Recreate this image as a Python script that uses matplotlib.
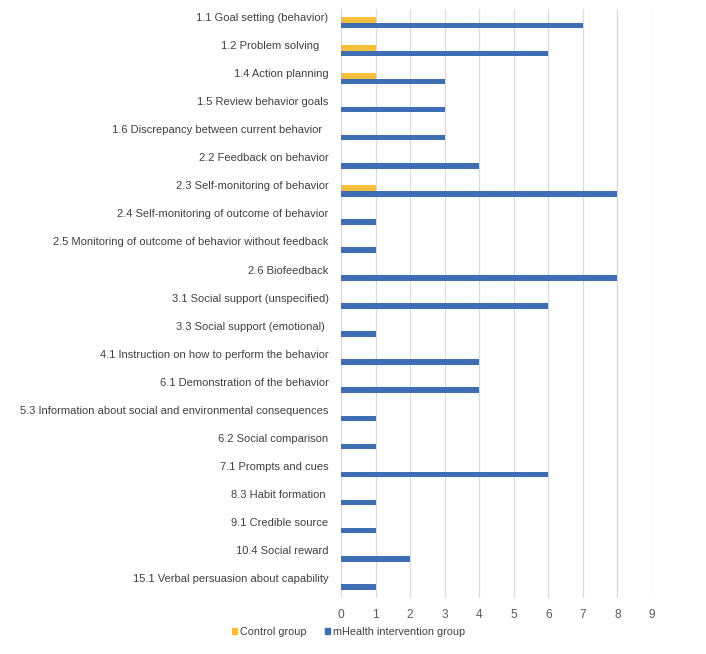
import matplotlib
matplotlib.use("Agg")
import matplotlib.pyplot as plt
import numpy as np
from matplotlib.patches import Patch

categories = [
    "1.1 Goal setting (behavior)",
    "1.2 Problem solving   ",
    "1.4 Action planning",
    "1.5 Review behavior goals",
    "1.6 Discrepancy between current behavior  ",
    "2.2 Feedback on behavior",
    "2.3 Self-monitoring of behavior",
    "2.4 Self-monitoring of outcome of behavior",
    "2.5 Monitoring of outcome of behavior without feedback",
    "2.6 Biofeedback",
    "3.1 Social support (unspecified)",
    "3.3 Social support (emotional) ",
    "4.1 Instruction on how to perform the behavior",
    "6.1 Demonstration of the behavior",
    "5.3 Information about social and environmental consequences",
    "6.2 Social comparison",
    "7.1 Prompts and cues",
    "8.3 Habit formation ",
    "9.1 Credible source",
    "10.4 Social reward",
    "15.1 Verbal persuasion about capability",
]
control = [1, 1, 1, 0, 0, 0, 1, 0, 0, 0, 0, 0, 0, 0, 0, 0, 0, 0, 0, 0, 0]
mhealth = [7, 6, 3, 3, 3, 4, 8, 1, 1, 8, 6, 1, 4, 4, 1, 1, 6, 1, 1, 2, 1]
xticks = list(range(0, 10))

C_CONTROL = "#F4BF3B"
C_MHEALTH = "#3F6EB4"
GRID = "#D9D9D9"
TXT = "#404040"

plt.rcParams["font.family"] = ["Liberation Sans", "DejaVu Sans"]

fig = plt.figure(figsize=(7.06, 6.54), dpi=100)
ax = fig.add_axes([341 / 706, 1 - 598 / 654, (652 - 341) / 706, (598 - 8.5) / 654])

y = np.arange(len(categories))
h = 0.2
ax.barh(y - h / 2, control, height=h, color=C_CONTROL, zorder=3)
ax.barh(y + h / 2, mhealth, height=h, color=C_MHEALTH, zorder=3)

ax.set_ylim(len(categories) - 0.5, -0.5)
ax.set_xlim(0, 9)
ax.set_yticks(y - 0.2)
ax.set_yticklabels(categories, fontsize=8.0, color=TXT)
ax.set_xticks(xticks)
ax.set_xticklabels([str(t) for t in xticks], fontsize=8.6, color="#595959")
ax.tick_params(axis="both", length=0)
ax.tick_params(axis="y", pad=9)
ax.tick_params(axis="x", pad=8)
ax.grid(axis="x", color=GRID, lw=0.9, zorder=0)
for s in ax.spines.values():
    s.set_visible(False)

handles = [Patch(color=C_CONTROL, label="Control group"),
           Patch(color=C_MHEALTH, label="mHealth intervention group")]
fig.legend(handles=handles, loc="center left", bbox_to_anchor=(222 / 706, 1 - 632 / 654),
           ncol=2, frameon=False, fontsize=7.8, handlelength=0.5, handleheight=0.5,
           handletextpad=0.25, columnspacing=1.7, labelcolor=TXT)

fig.savefig("out.png", dpi=100)
